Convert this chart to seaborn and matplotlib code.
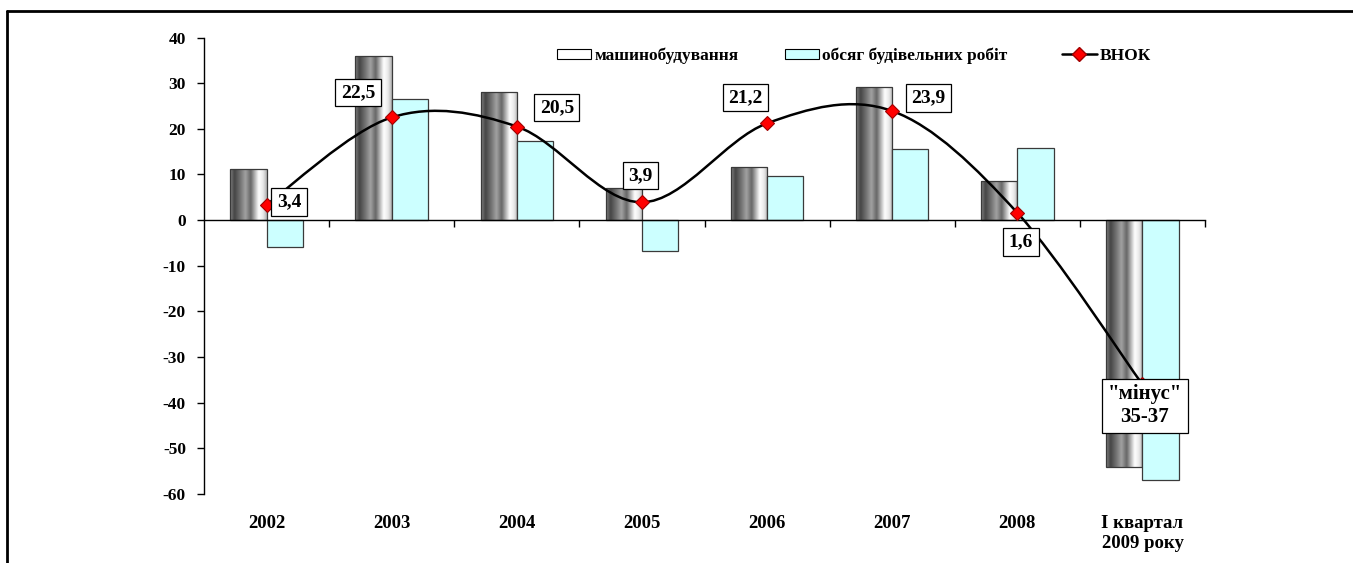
import numpy as np
import pandas as pd
import matplotlib
matplotlib.use("Agg")
import matplotlib.pyplot as plt
import seaborn as sns
from matplotlib.path import Path
from matplotlib.patches import PathPatch, Patch
from matplotlib.lines import Line2D
from matplotlib.colors import LinearSegmentedColormap

# ---- data -------------------------------------------------------------
categories = ["2002", "2003", "2004", "2005", "2006", "2007", "2008",
              "І квартал\n2009 року"]
machine_building = [11.3, 36.0, 28.1, 7.0, 11.7, 29.2, 8.6, -54.1]
construction = [-5.8, 26.5, 17.3, -6.7, 9.6, 15.6, 15.9, -57.0]
gdp = [3.4, 22.5, 20.5, 3.9, 21.2, 23.9, 1.6, -36.0]
gdp_labels = ["3,4", "22,5", "20,5", "3,9", "21,2", "23,9", "1,6",
              "\"мінус\"\n35-37"]
series_names = ["машинобудування", "обсяг будівельних робіт"]
line_name = "ВНОК"

# label box offsets from each point (x in category units, y in value units)
label_offsets = [(0.18, 0.66), (-0.27, 5.46), (0.32, 4.17), (-0.01, 5.86),
                 (-0.17, 5.66), (0.29, 2.85), (0.03, -6.31), (0.02, -4.7)]
label_sizes = [14, 14, 14, 14, 14, 14, 14, 15]

# ---- style ------------------------------------------------------------
sns.set_theme(style="white")
plt.rcParams["font.family"] = ["Liberation Serif", "DejaVu Serif"]
plt.rcParams["font.weight"] = "bold"
plt.rcParams["text.color"] = "black"
plt.rcParams["axes.unicode_minus"] = False

CYAN = "#ccffff"
EDGE = "#3a3a3a"

fig = plt.figure(figsize=(13.53, 5.63), dpi=100)
ax = fig.add_axes([204 / 1353, 1 - 494 / 563, 1001 / 1353, (494 - 37.5) / 563])

df = pd.DataFrame({
    "category": categories * 2,
    "value": machine_building + construction,
    "series": [series_names[0]] * len(categories) + [series_names[1]] * len(categories),
})

sns.barplot(data=df, x="category", y="value", hue="series",
            order=categories, hue_order=series_names,
            palette=["#9a9a9a", CYAN], saturation=1, width=0.58,
            edgecolor=EDGE, linewidth=0.9, legend=False, ax=ax, zorder=2)

# metallic cylinder shading for the machine-building bars
steel = LinearSegmentedColormap.from_list("steel", [
    (0.00, "#858585"), (0.12, "#444444"), (0.30, "#7a7a7a"),
    (0.42, "#a2a2a2"), (0.56, "#666666"), (0.78, "#ffffff"),
    (0.90, "#e8e8e8"), (1.00, "#b0b0b0")])
grad = np.linspace(0, 1, 256).reshape(1, -1)
for bar in ax.containers[0]:
    x0, y0 = bar.get_x(), bar.get_y()
    w, h = bar.get_width(), bar.get_height()
    im = ax.imshow(grad, cmap=steel, extent=[x0, x0 + w, y0, y0 + h],
                   aspect="auto", interpolation="bicubic", zorder=1.9)
    im.set_clip_path(bar)
    bar.set_facecolor("none")

# smoothed line through the points (Catmull-Rom as cubic Bezier segments)
xs = np.arange(len(gdp), dtype=float)
ys = np.asarray(gdp, dtype=float)
pts = np.column_stack([xs, ys])
ext = np.vstack([pts[0], pts, pts[-1]])
verts = [tuple(pts[0])]
codes = [Path.MOVETO]
for i in range(len(pts) - 1):
    p0, p1, p2, p3 = ext[i], ext[i + 1], ext[i + 2], ext[i + 3]
    c1 = p1 + (p2 - p0) / 6.0
    c2 = p2 - (p3 - p1) / 6.0
    verts += [tuple(c1), tuple(c2), tuple(p2)]
    codes += [Path.CURVE4] * 3
ax.add_patch(PathPatch(Path(verts, codes), fc="none", ec="black", lw=1.8,
                       zorder=4))
ax.plot(xs, ys, ls="none", marker="D", ms=7, mfc="#ff0000", mec="#a00000",
        mew=0.8, zorder=5)

# value boxes
for i, (lab, (dx, dy), fs) in enumerate(zip(gdp_labels, label_offsets,
                                             label_sizes)):
    ax.text(i + dx, gdp[i] + dy, lab, ha="center", va="center",
            fontsize=fs, fontweight="bold", linespacing=1.2, zorder=6,
            color="black",
            bbox=dict(boxstyle="square,pad=0.28", fc="white", ec="black",
                      lw=0.9))

# axes
ax.set_xlim(-0.5, len(categories) - 0.5)
ax.set_ylim(-60, 40)
ax.set_yticks(np.arange(-60, 41, 10))
ax.set_xticks(np.arange(0.5, len(categories), 1.0))
ax.set_xticklabels([])
ax.set_xlabel("")
ax.set_ylabel("")
for s in ["top", "right"]:
    ax.spines[s].set_visible(False)
ax.spines["bottom"].set_position(("data", 0))
ax.spines["bottom"].set_zorder(3)
for s in ["left", "bottom"]:
    ax.spines[s].set_color("black")
    ax.spines[s].set_linewidth(1.0)
ax.tick_params(axis="y", direction="out", length=5, width=1, colors="black",
               labelsize=12.5, left=True, pad=8)
ax.tick_params(axis="x", direction="out", length=5, width=1, colors="black",
               bottom=True)
for t in ax.get_yticklabels():
    t.set_fontweight("bold")
ax.patch.set_alpha(0)

# category names along the bottom
for i, cat in enumerate(categories):
    ax.annotate(cat, xy=(i, 0), xycoords=ax.get_xaxis_transform(),
                xytext=(0, -15), textcoords="offset points",
                ha="center", va="top", fontsize=13.5, fontweight="bold",
                linespacing=1.25, color="black")

# legend entries
legend_font = {"family": "Liberation Serif", "weight": "bold", "size": 12.5}
entries = [
    (Patch(fc="white", ec="black", lw=0.8), series_names[0], 557, 1.95),
    (Patch(fc=CYAN, ec="black", lw=0.8), series_names[1], 785, 1.95),
    (Line2D([], [], color="black", lw=1.8, marker="D", ms=7,
            mfc="#ff0000", mec="#a00000"), line_name, 1062, 2.0),
]
for handle, label, xpix, hlen in entries:
    leg = fig.legend([handle], [label], loc="center left",
                     bbox_to_anchor=(xpix / 1353, 1 - 56 / 563),
                     frameon=False, prop=legend_font, handlelength=hlen,
                     handleheight=0.55, handletextpad=0.2, borderpad=0,
                     borderaxespad=0)
    for txt in leg.get_texts():
        txt.set_color("black")

# outer frame (top and left edges)
fig.add_artist(Line2D([7 / 1353, 1.0], [1 - 11 / 563] * 2,
                      transform=fig.transFigure, color="black", lw=2))
fig.add_artist(Line2D([7 / 1353] * 2, [0.0, 1 - 11 / 563],
                      transform=fig.transFigure, color="black", lw=2))

fig.savefig("out.png", dpi=100)
